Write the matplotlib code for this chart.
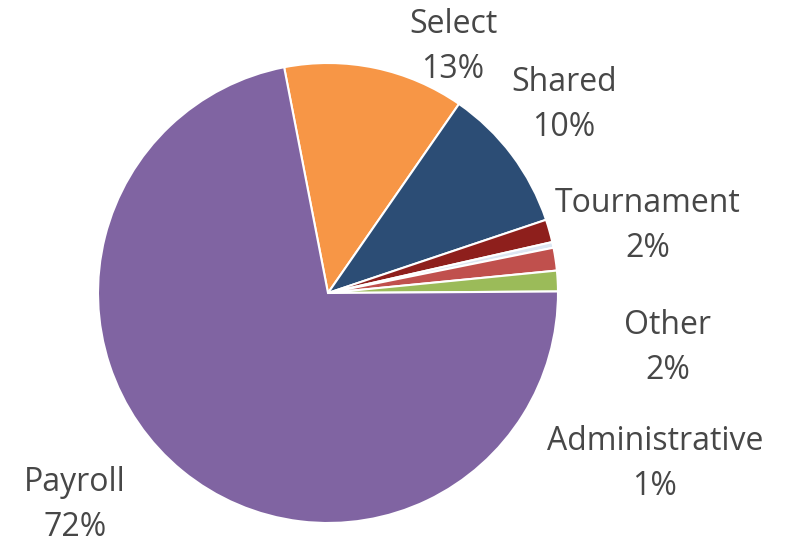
import matplotlib.pyplot as plt

# slice values (percent), clockwise from Select
categories = ["Select", "Shared", "Tournament", "", "Other", "Administrative", "Payroll"]
values = [12.7, 10.2, 1.6, 0.4, 1.6, 1.45, 72.05]
colors = ["#F79646", "#2C4D75", "#8E1F1C", "#DCE6F2", "#C0504D", "#9BBB59", "#8064A2"]

# label centres in pixel coords (y from top)
label_pos = {
    "Select": (453, 47),
    "Shared": (564, 105),
    "Tournament": (648, 226),
    "Other": (668, 348),
    "Administrative": (655, 464),
    "Payroll": (75, 505),
}

W, H = 788, 545
fig = plt.figure(figsize=(W / 100, H / 100), dpi=100)
ax = fig.add_axes([0, 0, 1, 1])

ax.pie(values, colors=colors, startangle=101, counterclock=False,
       center=(328, H - 293), radius=230, frame=True,
       wedgeprops=dict(edgecolor="white", linewidth=1.5))

for name, val in zip(categories, values):
    if name not in label_pos:
        continue
    x, y = label_pos[name]
    ax.text(x, H - y, f"{name}\n{round(val)}%", ha="center", va="center",
            fontsize=23, family="Open Sans", color="#474747", linespacing=1.45)

ax.set_xlim(0, W)
ax.set_ylim(0, H)
ax.set_aspect("equal")
ax.axis("off")

fig.savefig("out.png", dpi=100)
